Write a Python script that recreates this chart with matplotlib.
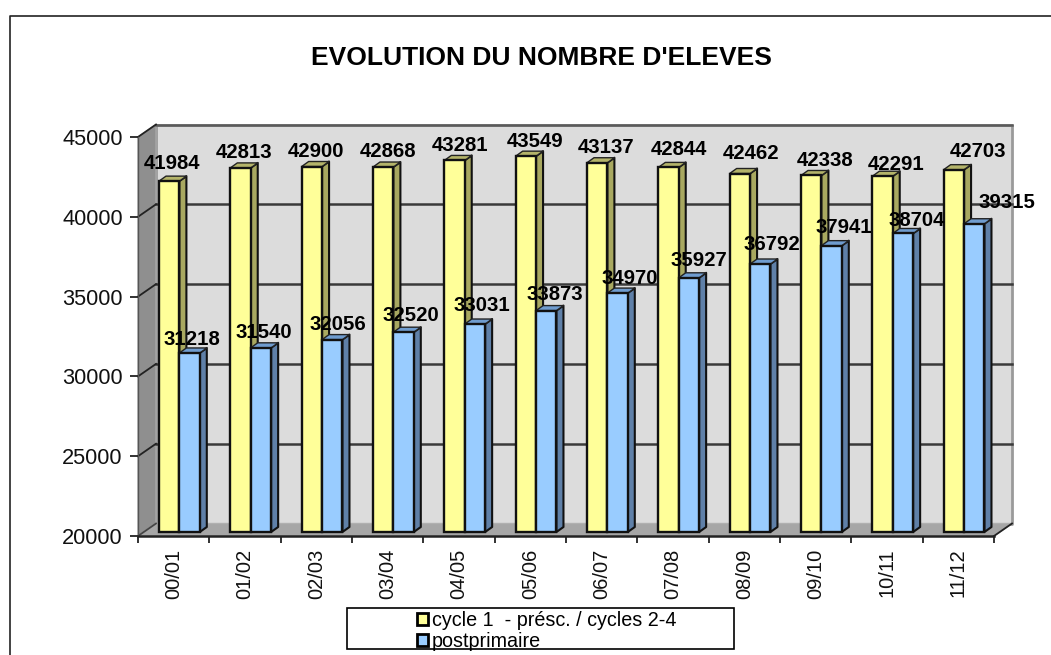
from matplotlib.lines import Line2D
from matplotlib.patches import Patch, Polygon, Rectangle
import matplotlib.pyplot as plt
import numpy as np

plt.rcParams["font.family"] = ["Liberation Sans", "DejaVu Sans"]

W, H = 1051, 655

years = ["00/01", "01/02", "02/03", "03/04", "04/05", "05/06",
         "06/07", "07/08", "08/09", "09/10", "10/11", "11/12"]
cycle1 = [41984, 42813, 42900, 42868, 43281, 43549, 43137, 42844, 42462, 42338, 42291, 42703]
postprimaire = [31218, 31540, 32056, 32520, 33031, 33873, 34970, 35927, 36792, 37941, 38704, 39315]
yticks = [20000, 25000, 30000, 35000, 40000, 45000]
title = "EVOLUTION DU NOMBRE D'ELEVES"
names = ["cycle 1  - présc. / cycles 2-4", "postprimaire"]

# label nudges in pixels from the top of each bar, the source chart was hand placed
cycle1_nudge = [(3, 20), (4, 17), (4, 17), (5, 18), (6, 17), (9, 17),
                (9, 17), (10, 20), (11, 22), (14, 17), (14, 14), (24, 20)]
post_nudge = [(2, 15), (3, 17), (6, 17), (7, 19), (7, 21), (9, 18),
              (12, 17), (10, 19), (12, 21), (12, 20), (14, 15), (33, 23)]

# axes = front plane of the fake 3d box
X0, X1, Y0, Y1 = 138, 994, 536, 137
PX_X = (X1 - X0) / len(years)
PX_Y = (Y0 - Y1) / (yticks[-1] - yticks[0])

DEPTH_X = 18 / PX_X
DEPTH_Y = 12.5 / PX_Y
BAR_DX = 7 / PX_X
BAR_DY = 5 / PX_Y
BAR_W = 20.4 / PX_X
BAR_GAP = 21 / PX_X
BAR_LIFT = 4 / PX_Y

fig = plt.figure(figsize=(W / 100, H / 100), dpi=100, facecolor="white")
ax = fig.add_axes([X0 / W, 1 - Y0 / H, (X1 - X0) / W, (Y0 - Y1) / H])
ax.set_xlim(0, len(years))
ax.set_ylim(yticks[0], yticks[-1])
ax.patch.set_visible(False)

ymin, ymax = yticks[0], yticks[-1]
xmax = len(years)


def poly(pts, fc, ec="none", lw=0.0, z=1):
    ax.add_patch(Polygon(pts, closed=True, facecolor=fc, edgecolor=ec,
                         linewidth=lw, zorder=z, clip_on=False, joinstyle="round"))


# walls and floor
poly([(DEPTH_X, ymin + DEPTH_Y), (xmax + DEPTH_X, ymin + DEPTH_Y),
      (xmax + DEPTH_X, ymax + DEPTH_Y), (DEPTH_X, ymax + DEPTH_Y)], "#dcdcdc", "#9a9a9a", 2.0)
poly([(0, ymin), (DEPTH_X, ymin + DEPTH_Y), (DEPTH_X, ymax + DEPTH_Y), (0, ymax)], "#8f8f8f", "#a8a8a8", 1.0)
poly([(0, ymin), (xmax, ymin), (xmax + DEPTH_X, ymin + DEPTH_Y), (DEPTH_X, ymin + DEPTH_Y)], "#a6a6a6", "#b0b0b0", 1.0)

# gridlines run along the back wall and down the left wall
for v in yticks[1:]:
    color = "#3a3a3a"
    if v == ymax:
        color = "#5a5a5a"
    ax.plot([DEPTH_X, xmax + DEPTH_X], [v + DEPTH_Y, v + DEPTH_Y], color=color, lw=1.8, zorder=2, clip_on=False)
    ax.plot([0, DEPTH_X], [v, v + DEPTH_Y], color="#222222", lw=1.3, zorder=2, clip_on=False)
ax.plot([xmax, xmax + DEPTH_X], [ymin, ymin + DEPTH_Y], color="#222222", lw=1.3, zorder=2, clip_on=False)
ax.plot([0, DEPTH_X], [ymin, ymin + DEPTH_Y], color="#444444", lw=1.3, zorder=2, clip_on=False)

series = [
    (cycle1, BAR_GAP, "#ffff99", "#a8a860", "#b4b46a", cycle1_nudge),
    (postprimaire, BAR_GAP + BAR_W, "#99ccff", "#5f80a8", "#6f9ccf", post_nudge),
]

z = 3
for i in range(len(years)):
    for vals, off, face, side, top, nudge in series:
        left = i + off
        right = left + BAR_W
        low = ymin + BAR_LIFT
        high = vals[i] + BAR_LIFT
        poly([(right, low), (right + BAR_DX, low + BAR_DY), (right + BAR_DX, high + BAR_DY), (right, high)],
             side, "#111111", 1.5, z)
        poly([(left, high), (right, high), (right + BAR_DX, high + BAR_DY), (left + BAR_DX, high + BAR_DY)],
             top, "#222222", 1.0, z)
        ax.bar(left, vals[i] - ymin, width=BAR_W, bottom=low, align="edge", color=face,
               edgecolor="#111111", linewidth=1.7, zorder=z, clip_on=False)
        z += 1

for vals, off, face, side, top, nudge in series:
    for i, v in enumerate(vals):
        ax.annotate(str(v), xy=(i + off + BAR_W / 2, v + BAR_LIFT), xytext=nudge[i],
                    textcoords="offset pixels", ha="center", va="center_baseline",
                    fontsize=14.7, fontweight="bold", color="black", zorder=100, annotation_clip=False)

for side_name in ["top", "right"]:
    ax.spines[side_name].set_visible(False)
ax.spines["bottom"].set_color("#222222")
ax.spines["bottom"].set_linewidth(1.8)
ax.spines["bottom"].set_zorder(60)
ax.spines["left"].set_color("#555555")
ax.spines["left"].set_linewidth(1.0)

ax.set_yticks(yticks)
ax.tick_params(axis="y", length=6, width=1.3, color="#222222", labelsize=15.7, pad=5, labelcolor="#111111")
ax.set_xticks(np.arange(len(years) + 1))
ax.set_xticklabels([])
ax.tick_params(axis="x", which="major", length=5, width=1.3, color="#222222")
ax.set_xticks(np.arange(len(years)) + 0.5, minor=True)
ax.set_xticklabels(years, minor=True, rotation=90, fontsize=14.5, color="#111111")
ax.tick_params(axis="x", which="minor", length=0, pad=9)

fig.text(541 / W, 1 - 58 / H, title, ha="center", va="center", fontsize=19, fontweight="bold", color="black")

# outer frame, cut off on the right and bottom in the source image
fig.add_artist(Line2D([10 / W, 10 / W, 1], [0, 1 - 15.5 / H, 1 - 15.5 / H],
                      color="#222222", lw=1.2, transform=fig.transFigure))

fig.add_artist(Rectangle((347 / W, 1 - 649 / H), 387 / W, 41 / H, facecolor="white",
                         edgecolor="black", lw=1.2, transform=fig.transFigure))
handles = [Patch(facecolor="#ffff99", edgecolor="black", lw=2.0, label=names[0]),
           Patch(facecolor="#99ccff", edgecolor="black", lw=2.0, label=names[1])]
leg = fig.legend(handles=handles, loc="upper left", bbox_to_anchor=(415 / W, 1 - 609 / H),
                 frameon=False, fontsize=14.2, handlelength=0.55, handleheight=0.55,
                 handletextpad=0.2, labelspacing=0.12, borderpad=0.1, borderaxespad=0)

fig.savefig("out.png", dpi=100)
